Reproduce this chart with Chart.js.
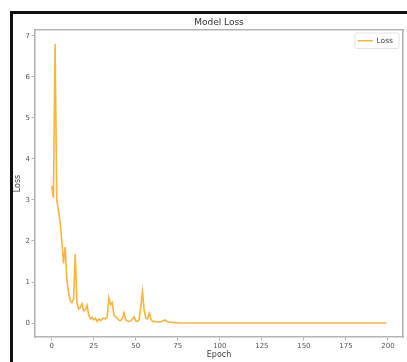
<!DOCTYPE html>
<html>
<head>
<meta charset="utf-8">
<script src="https://cdn.jsdelivr.net/npm/chart.js@4.4.1/dist/chart.umd.min.js"></script>
<style>
html,body{margin:0;padding:0;background:#fff;}
#wrap{position:relative;width:407px;height:362px;}
#frame{position:absolute;left:10px;top:11px;right:0;bottom:0;border-left:3px solid #111;border-top:3px solid #111;}
#c{position:absolute;left:0;top:0;}
</style>
</head>
<body>
<div id="wrap">
<div id="frame"></div>
<canvas id="c" width="407" height="362"></canvas>
</div>
<script>
// loss per epoch
const lossValues=[
3.35,3.05,6.8,3.0,2.75,2.45,2.0,1.45,1.85,1.05,0.75,0.55,0.5,0.58,1.68,0.5,0.34,0.38,0.47,0.3,0.32,0.43,0.2,0.1,0.14,
0.08,0.12,0.04,0.1,0.06,0.1,0.12,0.1,0.15,0.62,0.45,0.5,0.2,0.15,0.12,0.07,0.06,0.12,0.25,0.08,0.05,0.04,0.05,0.1,0.15,
0.05,0.04,0.08,0.4,0.76,0.3,0.12,0.1,0.24,0.1,0.04,0.04,0.03,0.03,0.02,0.03,0.05,0.07,0.06,0.03,0.02,0.02,0.01,0.01,0.01,
0,0,0,0,0,0,0,0,0,0,0,0,0,0,0,0,0,0,0,0,0,0,0,0,0,
0,0,0,0,0,0,0,0,0,0,0,0,0,0,0,0,0,0,0,0,0,0,0,0,0,
0,0,0,0,0,0,0,0,0,0,0,0,0,0,0,0,0,0,0,0,0,0,0,0,0,
0,0,0,0,0,0,0,0,0,0,0,0,0,0,0,0,0,0,0,0,0,0,0,0,0,
0,0,0,0,0,0,0,0,0,0,0,0,0,0,0,0,0,0,0,0,0,0,0,0,0
];
const epochs=lossValues.map((v,i)=>i);

const lineColor="#FBB43C";
const spine="#b4b4b4";
const font="'DejaVu Sans'";
const legendPad=7;

// move the legend to the top right corner of the plot and box it
const legendCorner={
id:"legendCorner",
afterLayout(chart){
const lg=chart.legend;
const ca=chart.chartArea;
const w=lg.width;
lg.right=ca.right;
lg.left=ca.right-w;
lg.top=ca.top;
},
afterDraw(chart){
const lg=chart.legend;
const ctx=chart.ctx;
const fs=7.5;
ctx.save();
ctx.strokeStyle="#e4e4e4";
ctx.lineWidth=1;
ctx.beginPath();
ctx.roundRect(lg.left+legendPad-3,lg.top+legendPad-4,lg.width-2*legendPad+6,fs+8,2);
ctx.stroke();
ctx.restore();
}
};

new Chart(document.getElementById("c"),{
type:"line",
data:{
datasets:[{
label:"Loss",
data:epochs.map((e,i)=>({x:e,y:lossValues[i]})),
borderColor:lineColor,
backgroundColor:lineColor,
borderWidth:1.6,
pointRadius:0,
tension:0
}]
},
options:{
responsive:false,
animation:false,
layout:{padding:0},
plugins:{
title:{display:false},
tooltip:{enabled:false},
legend:{
position:"chartArea",
align:"start",
labels:{
usePointStyle:true,
pointStyle:"line",
pointStyleWidth:15,
color:"#444",
padding:legendPad,
font:{family:font,size:7.5}
}
}
},
scales:{
x:{
type:"linear",
min:-9.95,max:208.95,
afterFit(s){s.height=25;},
grid:{drawOnChartArea:false,drawTicks:true,tickLength:3.5,color:spine},
border:{display:true,color:spine,width:1.6},
ticks:{stepSize:25,includeBounds:false,autoSkip:false,maxRotation:0,padding:1,color:"#555",font:{family:font,size:7}},
title:{display:true,text:"Epoch",color:"#444",padding:{top:0,bottom:2},font:{family:font,size:8}}
},
xTop:{
type:"linear",position:"top",min:0,max:1,
afterFit(s){s.height=30;},
grid:{display:false},
border:{display:true,color:spine,width:1.6},
ticks:{display:false},
title:{display:true,text:"Model Loss",color:"#333",padding:{top:17,bottom:0},font:{family:font,size:9}}
},
y:{
type:"linear",
min:-0.34,max:7.14,
afterFit(s){s.width=35;},
grid:{drawOnChartArea:false,drawTicks:true,tickLength:3.5,color:spine},
border:{display:true,color:spine,width:1.6},
ticks:{stepSize:1,includeBounds:false,padding:1.5,color:"#555",font:{family:font,size:7}},
title:{display:true,text:"Loss",color:"#444",padding:{top:13,bottom:0},font:{family:font,size:8}}
},
yRight:{
type:"linear",position:"right",min:0,max:1,
afterFit(s){s.width=4;},
grid:{display:false},
border:{display:true,color:spine,width:1.6},
ticks:{display:false}
}
}
},
plugins:[legendCorner]
});
</script>
</body>
</html>
